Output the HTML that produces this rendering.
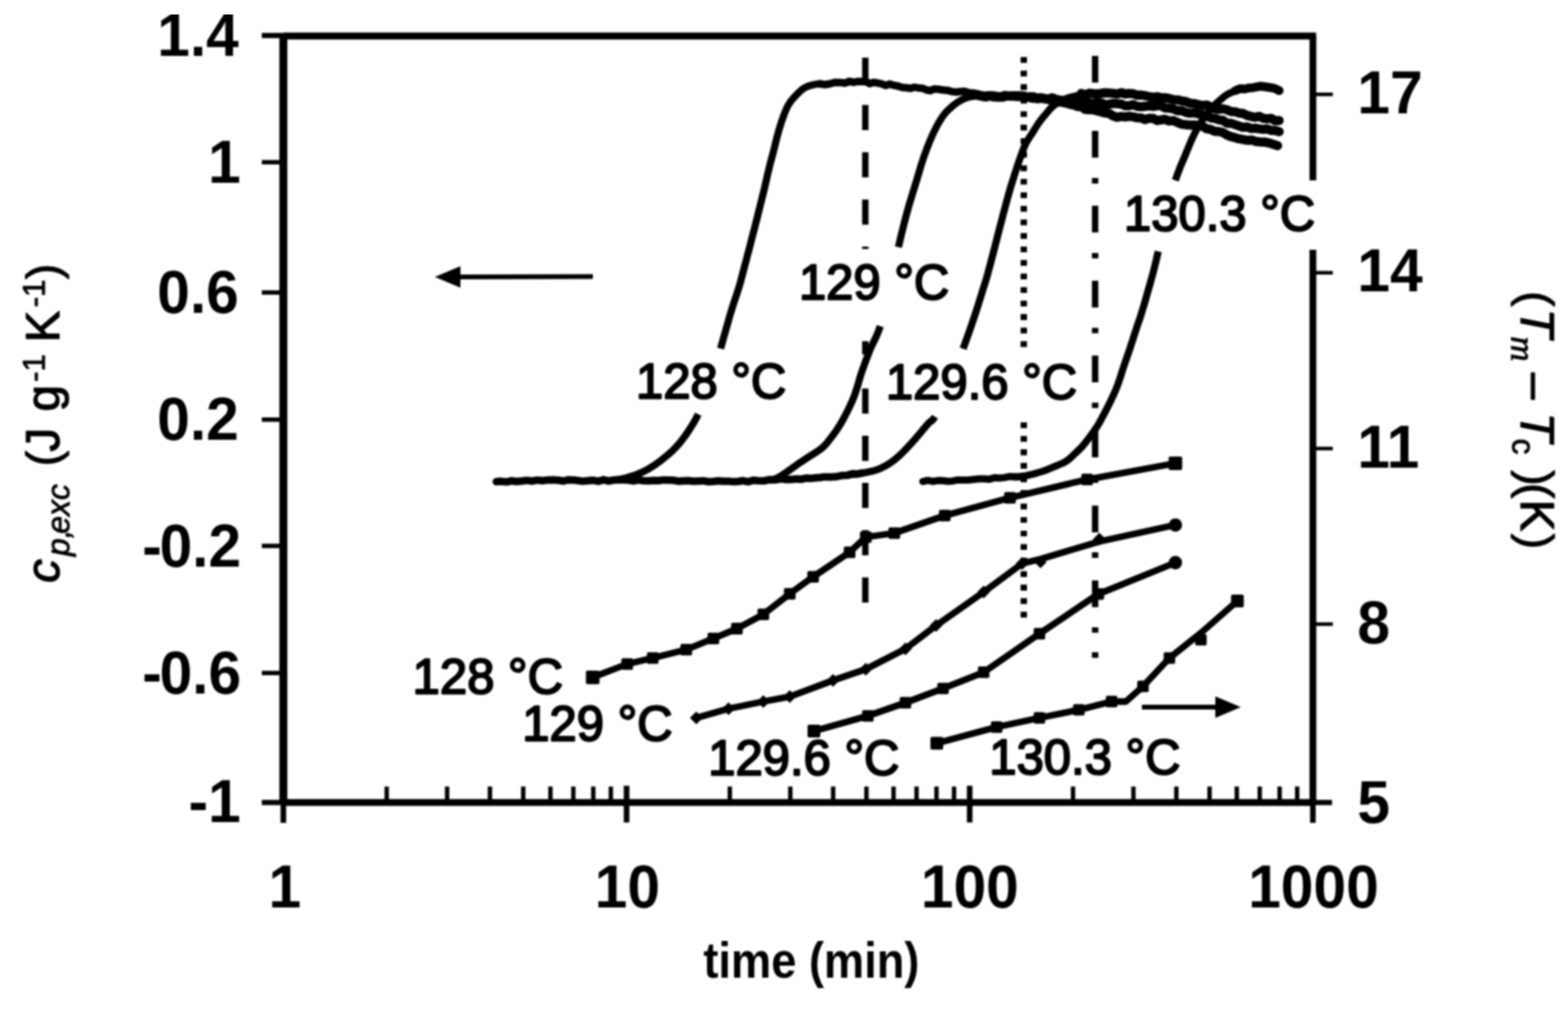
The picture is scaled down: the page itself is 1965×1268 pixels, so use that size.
<!DOCTYPE html>
<html lang="en">
<head>
<meta charset="utf-8">
<title>Excess heat capacity and melting temperature versus time</title>
<style>
html, body { margin: 0; padding: 0; background: #fff; }
body { width: 1965px; height: 1268px; overflow: hidden; }
svg { display: block; }
</style>
</head>
<body>
<svg width="1965" height="1268" viewBox="0 0 1965 1268">
<rect width="1965" height="1268" fill="#fff"/>
<defs><filter id="soft" x="-5%" y="-5%" width="110%" height="110%"><feGaussianBlur stdDeviation="1.3"/></filter></defs>
<g id="figure" filter="url(#soft)">
<g id="chart" fill="none" stroke="#000" stroke-linecap="butt" stroke-linejoin="round">
<path d="M355.1 1005.5 L355.1 44.8" stroke-width="10.0"/>
<path d="M355.1 45.1 L1649.3 45.1" stroke-width="8.8"/>
<path d="M1645.3 44.8 L1645.3 226 M1645.3 313 L1645.3 1005.5" stroke-width="8.5"/>
<path d="M355.1 1005.5 L1645.3 1005.5" stroke-width="8.6"/>
<path d="M328.1 44.5 L355.1 44.5 M328.1 1005.5 L355.1 1005.5 M1645.3 1005.5 L1669.3 1005.5" stroke-width="6.5"/>
<path d="M355.1 1005.5 L355.1 1031.0 M1645.3 1005.5 L1645.3 1031.0" stroke-width="7"/>
<path d="M328.1 203.2 L355.1 203.2 M328.1 366.4 L355.1 366.4 M328.1 525.7 L355.1 525.7 M328.1 684.0 L355.1 684.0 M328.1 843.3 L355.1 843.3 " stroke-width="5.5"/>
<path d="M1645.3 118.3 L1670.3 118.3 M1645.3 341.8 L1670.3 341.8 M1645.3 562 L1670.3 562 M1645.3 782 L1670.3 782 " stroke-width="4.5"/>
<path d="M484.6 1005.5 L484.6 985.5 M560.3 1005.5 L560.3 985.5 M614.0 1005.5 L614.0 985.5 M655.7 1005.5 L655.7 985.5 M689.8 1005.5 L689.8 985.5 M718.5 1005.5 L718.5 985.5 M743.5 1005.5 L743.5 985.5 M765.5 1005.5 L765.5 985.5 M914.6 1005.5 L914.6 985.5 M990.4 1005.5 L990.4 985.5 M1044.1 1005.5 L1044.1 985.5 M1085.8 1005.5 L1085.8 985.5 M1119.8 1005.5 L1119.8 985.5 M1148.6 1005.5 L1148.6 985.5 M1173.6 1005.5 L1173.6 985.5 M1195.6 1005.5 L1195.6 985.5 M1344.7 1005.5 L1344.7 985.5 M1420.4 1005.5 L1420.4 985.5 M1474.2 1005.5 L1474.2 985.5 M1515.8 1005.5 L1515.8 985.5 M1549.9 1005.5 L1549.9 985.5 M1578.7 1005.5 L1578.7 985.5 M1603.6 1005.5 L1603.6 985.5 M1625.6 1005.5 L1625.6 985.5 " stroke-width="5.5"/>
<path d="M785.2 984.5 L785.2 1030.5 M1215.2 984.5 L1215.2 1030.5 " stroke-width="7"/>
<path d="M1084.4 72.3 L1084.4 103.8 M1084.4 131.5 L1084.4 163.0 M1084.4 190.7 L1084.4 222.2 M1084.4 249.9 L1084.4 281.4 M1084.4 309.1 L1084.4 312.0 M1084.4 427.5 L1084.4 444.0 M1084.4 486.7 L1084.4 518.2 M1084.4 545.9 L1084.4 577.4 M1084.4 605.1 L1084.4 636.6 M1084.4 664.3 L1084.4 695.8 M1084.4 723.5 L1084.4 755.0 " stroke-width="8"/>
<path d="M1283.0 71.6 L1283.0 78.8 M1283.0 88.6 L1283.0 95.8 M1283.0 105.5 L1283.0 112.7 M1283.0 122.5 L1283.0 129.7 M1283.0 139.4 L1283.0 146.6 M1283.0 156.3 L1283.0 163.5 M1283.0 173.3 L1283.0 180.5 M1283.0 190.2 L1283.0 197.4 M1283.0 207.2 L1283.0 214.4 M1283.0 224.2 L1283.0 231.3 M1283.0 241.1 L1283.0 248.3 M1283.0 258.0 L1283.0 265.2 M1283.0 275.0 L1283.0 282.2 M1283.0 291.9 L1283.0 299.2 M1283.0 308.9 L1283.0 316.1 M1283.0 325.8 L1283.0 333.1 M1283.0 342.8 L1283.0 350.0 M1283.0 359.7 L1283.0 366.9 M1283.0 376.7 L1283.0 383.9 M1283.0 393.6 L1283.0 400.9 M1283.0 410.6 L1283.0 417.8 M1283.0 427.5 L1283.0 434.8 M1283.0 529.2 L1283.0 536.5 M1283.0 546.2 L1283.0 553.4 M1283.0 563.1 L1283.0 570.4 M1283.0 580.1 L1283.0 587.3 M1283.0 597.0 L1283.0 604.2 M1283.0 614.0 L1283.0 621.2 M1283.0 631.0 L1283.0 638.2 M1283.0 647.9 L1283.0 655.1 M1283.0 664.9 L1283.0 672.1 M1283.0 681.8 L1283.0 689.0 M1283.0 698.8 L1283.0 706.0 M1283.0 715.7 L1283.0 722.9 M1283.0 732.6 L1283.0 739.9 M1283.0 749.6 L1283.0 756.8 M1283.0 766.5 L1283.0 773.8 " stroke-width="8"/>
<path d="M1372.4 70.0 L1372.4 103.5 M1372.4 129.3 L1372.4 136.1 M1372.4 163.9 L1372.4 197.4 M1372.4 223.1 L1372.4 229.9 M1372.4 257.8 L1372.4 291.3 M1372.4 316.9 L1372.4 323.7 M1372.4 351.7 L1372.4 385.2 M1372.4 410.7 L1372.4 417.5 M1372.4 445.6 L1372.4 479.1 M1372.4 504.5 L1372.4 511.3 M1372.4 539.5 L1372.4 573.0 M1372.4 598.3 L1372.4 605.1 M1372.4 633.4 L1372.4 666.9 M1372.4 692.1 L1372.4 698.9 M1372.4 727.3 L1372.4 760.8 M1372.4 785.9 L1372.4 792.7 M1372.4 817.2 L1372.4 824.2 " stroke-width="8"/>
<path d="M622.0 603.6 L628.3 603.1 L634.7 603.9 L641.0 602.5 L647.3 603.3 L653.7 602.7 L660.0 601.9 L666.7 602.7 L673.3 601.6 L680.0 602.3 L686.7 601.4 L693.3 601.3 L700.0 601.8 L706.2 602.7 L712.5 601.2 L718.8 601.4 L725.0 602.3 L731.2 602.9 L737.5 602.2 L743.8 601.8 L750.0 603.0 L756.2 601.1 L762.5 602.7 L768.8 601.6 L775.0 601.3 L781.2 601.2 L787.5 601.6 L793.8 602.6 L800.0 601.4 L806.2 602.2 L812.5 602.4 L818.8 601.9 L825.0 602.3 L831.2 601.4 L837.5 601.5 L843.8 601.8 L850.0 602.9 L856.2 602.4 L862.5 602.3 L868.8 602.9 L875.0 602.7 L881.2 602.4 L887.5 603.5 L893.8 603.3 L900.0 602.5 L906.2 603.1 L912.5 602.9 L918.8 603.6 L925.0 603.2 L931.2 602.3 L937.5 603.6 L943.8 601.8 L950.0 602.3 L957.0 602.6 L964.0 601.0 L971.0 601.3 L978.0 600.0 L985.0 600.5" stroke-width="9.5" stroke-linecap="round"/>
<path d="M985.0 600.8 L991.2 600.8 L997.5 600.1 L1003.8 600.5 L1010.0 599.1 L1016.0 599.4 L1022.0 598.7 L1028.0 598.2 L1034.0 597.4 L1040.0 597.7 L1047.3 597.3 L1054.7 595.8 L1062.0 595.6 L1068.3 593.5 L1074.7 593.9 L1081.0 592.6" stroke-width="9.5" stroke-linecap="round"/>
<path d="M765.0 602.0 L765.9 601.9 L766.9 601.7 L768.2 601.6 L769.6 601.5 L771.1 601.3 L772.7 601.1 L774.4 600.9 L776.2 600.6 L778.0 600.3 L779.9 599.9 L781.8 599.5 L783.6 599.0 L785.5 598.5 L787.4 597.9 L789.5 597.3 L791.6 596.6 L793.7 595.9 L795.9 595.2 L798.1 594.4 L800.3 593.5 L802.5 592.6 L804.7 591.6 L806.9 590.6 L809.0 589.5 L811.1 588.3 L813.3 587.1 L815.5 585.8 L817.7 584.4 L819.9 583.0 L822.1 581.5 L824.2 579.9 L826.4 578.4 L828.5 576.8 L830.5 575.2 L832.5 573.6 L834.5 572.0 L836.4 570.4 L838.2 568.8 L840.0 567.3 L841.7 565.7 L843.4 564.1 L845.1 562.4 L846.7 560.7 L848.4 558.9 L850.0 557.1 L851.7 555.2 L853.3 553.1 L855.0 551.0 L856.7 548.7 L858.4 546.4 L860.2 543.9 L861.9 541.4 L863.6 538.8 L865.3 536.1 L867.0 533.4 L868.7 530.6 L870.4 527.8 L872.0 524.9 L873.5 521.9 L875.0 519.0" stroke-width="9.0" stroke-linecap="butt"/>
<path d="M903.0 436.7 L904.1 432.9 L905.2 429.1 L906.3 425.1 L907.4 421.1 L908.6 417.1 L909.7 413.1 L910.8 409.1 L911.9 405.2 L913.0 401.4 L914.0 397.8 L915.0 394.3 L916.0 391.0 L917.0 387.9 L917.9 384.9 L918.8 382.0 L919.7 379.2 L920.6 376.6 L921.4 374.0 L922.3 371.5 L923.1 369.1 L923.9 366.8 L924.6 364.5 L925.3 362.2 L926.0 360.0 L926.6 357.9 L927.2 356.1 L927.6 354.5 L928.1 353.0 L928.5 351.5 L928.8 350.1 L929.2 348.6 L929.7 346.9 L930.1 345.1 L930.7 343.1 L931.3 340.7 L932.0 338.0 L932.8 334.9 L933.7 331.5 L934.7 327.9 L935.7 324.0 L936.7 319.9 L937.8 315.8 L939.0 311.5 L940.1 307.1 L941.2 302.8 L942.3 298.4 L943.4 294.2 L944.5 290.0 L945.6 285.8 L946.6 281.6 L947.8 277.2 L948.9 272.7 L950.0 268.3 L951.1 263.9 L952.2 259.5 L953.2 255.3 L954.3 251.1 L955.2 247.2 L956.2 243.5 L957.0 240.0 L957.8 236.8 L958.5 233.8 L959.2 230.9 L959.8 228.3 L960.4 225.7 L960.9 223.3 L961.4 221.0 L961.9 218.7 L962.4 216.5 L963.0 214.4 L963.5 212.2 L964.0 210.0 L964.5 207.8 L965.1 205.7 L965.6 203.7 L966.1 201.7 L966.6 199.8 L967.1 197.9 L967.6 196.0 L968.1 194.2 L968.6 192.4 L969.1 190.6 L969.5 188.8 L970.0 187.0 L970.4 185.2 L970.9 183.5 L971.3 181.8 L971.7 180.1 L972.1 178.4 L972.5 176.8 L972.9 175.1 L973.3 173.5 L973.7 171.9 L974.1 170.2 L974.6 168.6 L975.0 167.0 L975.5 165.4 L975.9 163.7 L976.4 162.1 L976.9 160.5 L977.4 158.9 L977.9 157.3 L978.4 155.7 L978.9 154.1 L979.4 152.6 L979.9 151.0 L980.5 149.5 L981.0 148.0 L981.5 146.5 L982.1 145.0 L982.6 143.6 L983.2 142.1 L983.7 140.7 L984.3 139.3 L984.9 137.9 L985.5 136.5 L986.1 135.2 L986.7 133.9 L987.3 132.7 L988.0 131.5 L988.7 130.4 L989.4 129.3 L990.1 128.2 L990.8 127.2 L991.5 126.3 L992.3 125.3 L993.0 124.4 L993.8 123.5 L994.6 122.6 L995.4 121.7 L996.2 120.9 L997.0 120.0 L997.8 119.1 L998.7 118.2 L999.5 117.4 L1000.4 116.5 L1001.3 115.6 L1002.2 114.8 L1003.1 114.0 L1004.0 113.2 L1004.9 112.4 L1005.8 111.7 L1006.7 111.1 L1007.6 110.5 L1008.5 110.0 L1009.3 109.5 L1010.2 109.1 L1011.0 108.7 L1011.9 108.3 L1012.7 108.0 L1013.6 107.7 L1014.4 107.5 L1015.3 107.2 L1016.2 107.0 L1017.1 106.7 L1018.0 106.5 L1019.0 106.3 L1020.0 106.0 L1021.2 105.8 L1022.3 105.6 L1023.5 105.4 L1024.7 105.2 L1025.8 105.1 L1026.8 104.9 L1027.8 104.8 L1028.7 104.7 L1029.4 104.6 L1030.0 104.5" stroke-width="9.0" stroke-linecap="butt"/>
<path d="M1028.0 105.3 L1034.0 106.0 L1040.0 105.0 L1046.9 103.2 L1053.8 103.4 L1059.1 104.2 L1064.4 102.0 L1069.7 103.2 L1075.0 102.1 L1080.0 102.2 L1085.0 102.2 L1090.0 104.7 L1095.0 103.2 L1100.0 104.1 L1105.0 105.1 L1110.0 107.1 L1115.0 105.2 L1120.2 106.9 L1125.4 107.9 L1130.6 109.5 L1135.8 109.9 L1141.0 110.7 L1146.0 109.3 L1151.0 110.2 L1156.0 110.5 L1161.0 112.7 L1166.0 113.5 L1171.3 111.4 L1176.6 112.0 L1181.9 112.7 L1187.2 113.2 L1192.5 114.6 L1198.0 115.4 L1203.5 114.8 L1209.0 114.5 L1214.5 116.3 L1220.0 116.6 L1226.0 117.7 L1232.0 119.4 L1238.0 119.1 L1244.0 119.0 L1249.2 119.7 L1254.4 120.2 L1259.6 118.5 L1264.8 121.5 L1270.0 121.4 L1275.0 121.9 L1280.0 122.0 L1285.0 120.9 L1290.0 121.5" stroke-width="9.5" stroke-linecap="round"/>
<path d="M1290.0 121.2 L1295.2 121.3 L1300.3 123.7 L1305.5 123.0 L1310.7 124.0 L1315.8 125.3 L1321.0 126.1 L1325.9 127.7 L1330.8 128.0 L1335.6 129.0 L1340.5 130.5 L1345.4 131.5 L1350.2 133.4 L1355.1 133.5 L1360.0 137.0 L1365.0 137.5 L1370.0 137.4 L1375.0 138.9 L1380.0 140.3 L1385.0 141.6 L1390.0 142.1 L1395.0 145.3 L1400.0 146.9 L1405.0 145.9 L1410.0 146.5 L1415.0 145.8 L1420.0 146.4 L1425.0 147.6 L1430.0 147.8 L1435.0 149.8 L1440.0 148.2 L1445.0 148.2 L1450.0 151.1 L1455.0 150.2 L1460.0 149.5 L1465.2 151.6 L1470.4 151.1 L1475.7 153.4 L1480.9 155.6 L1486.1 156.2 L1491.3 156.7 L1496.6 156.4 L1501.8 157.7 L1507.0 158.1 L1512.1 161.3 L1517.2 162.2 L1522.2 164.4 L1527.3 164.7 L1532.4 166.0 L1537.5 169.2 L1542.5 171.2 L1547.6 172.4 L1552.7 173.9 L1558.1 174.9 L1563.4 175.8 L1568.8 175.4 L1574.2 177.3 L1579.5 177.9 L1584.9 178.0 L1590.3 179.1 L1595.6 180.8 L1601.0 182.5" stroke-width="11.5" stroke-linecap="round"/>
<path d="M968.0 601.5 L968.4 601.3 L968.9 601.1 L969.5 600.9 L970.1 600.6 L970.8 600.3 L971.6 600.0 L972.4 599.6 L973.2 599.2 L974.1 598.8 L974.9 598.4 L975.8 598.0 L976.6 597.5 L977.5 597.0 L978.3 596.5 L979.2 595.9 L980.2 595.3 L981.1 594.7 L982.1 594.0 L983.1 593.4 L984.1 592.7 L985.0 592.0 L986.0 591.4 L987.0 590.7 L988.0 590.0 L989.0 589.3 L989.9 588.6 L990.9 588.0 L991.8 587.3 L992.8 586.6 L993.8 585.8 L994.8 585.1 L995.8 584.4 L996.8 583.7 L997.8 582.9 L998.9 582.2 L1000.0 581.4 L1001.1 580.6 L1002.3 579.8 L1003.5 579.0 L1004.8 578.2 L1006.0 577.4 L1007.3 576.6 L1008.6 575.7 L1009.9 574.9 L1011.1 574.0 L1012.4 573.2 L1013.7 572.4 L1015.0 571.5 L1016.3 570.7 L1017.6 569.8 L1019.0 569.0 L1020.3 568.1 L1021.7 567.2 L1023.0 566.4 L1024.4 565.5 L1025.7 564.6 L1027.0 563.7 L1028.2 562.8 L1029.4 561.9 L1030.5 561.0 L1031.6 560.1 L1032.5 559.1 L1033.5 558.2 L1034.4 557.2 L1035.3 556.2 L1036.1 555.2 L1036.9 554.2 L1037.7 553.2 L1038.5 552.2 L1039.3 551.1 L1040.2 550.1 L1041.0 549.0 L1041.9 547.9 L1042.7 546.8 L1043.6 545.7 L1044.4 544.6 L1045.3 543.4 L1046.1 542.2 L1046.9 541.1 L1047.8 539.9 L1048.6 538.7 L1049.4 537.5 L1050.2 536.2 L1051.0 535.0 L1051.8 533.7 L1052.6 532.5 L1053.3 531.2 L1054.1 529.9 L1054.8 528.6 L1055.6 527.3 L1056.3 526.0 L1057.0 524.6 L1057.8 523.3 L1058.5 521.9 L1059.3 520.4 L1060.0 519.0 L1060.8 517.5 L1061.6 515.9 L1062.4 514.3 L1063.2 512.7 L1064.0 511.0 L1064.8 509.3 L1065.6 507.6 L1066.3 506.0 L1067.1 504.4 L1067.8 502.9 L1068.4 501.4 L1069.0 500.0 L1069.5 498.7 L1070.0 497.6 L1070.4 496.5 L1070.8 495.5 L1071.1 494.6 L1071.5 493.6 L1071.8 492.7 L1072.1 491.7 L1072.4 490.7 L1072.8 489.6 L1073.2 488.3 L1073.6 487.0 L1074.1 485.5 L1074.5 484.0 L1075.0 482.5 L1075.5 480.8 L1076.0 479.1 L1076.5 477.4 L1077.0 475.6 L1077.5 473.7 L1078.1 471.9 L1078.7 469.9 L1079.3 468.0 L1080.0 466.0 L1080.7 464.0 L1081.4 461.9 L1082.2 459.7 L1083.0 457.6 L1083.8 455.3 L1084.6 453.1 L1085.4 450.8 L1086.3 448.5 L1087.2 446.1 L1088.1 443.8 L1089.1 441.4 L1090.0 439.0 L1091.0 436.6 L1092.0 434.4 L1093.1 432.1 L1094.2 429.8 L1095.3 427.5 L1096.4 425.2 L1097.6 422.8 L1098.7 420.3 L1099.8 417.6 L1100.9 414.9 L1102.0 411.9 L1103.0 408.7" stroke-width="9.0" stroke-linecap="butt"/>
<path d="M1125.8 309.7 L1126.8 305.8 L1127.7 301.9 L1128.6 298.0 L1129.5 294.2 L1130.5 290.4 L1131.4 286.7 L1132.3 283.0 L1133.2 279.3 L1134.2 275.7 L1135.1 272.1 L1136.0 268.5 L1137.0 265.0 L1138.0 261.5 L1139.0 257.9 L1140.0 254.3 L1141.1 250.8 L1142.2 247.2 L1143.2 243.8 L1144.3 240.4 L1145.3 237.0 L1146.3 233.8 L1147.2 230.7 L1148.2 227.8 L1149.0 225.0 L1149.8 222.4 L1150.5 219.9 L1151.2 217.6 L1151.9 215.4 L1152.5 213.3 L1153.1 211.2 L1153.7 209.3 L1154.2 207.4 L1154.8 205.5 L1155.4 203.7 L1156.0 201.9 L1156.6 200.0 L1157.2 198.2 L1157.8 196.4 L1158.4 194.6 L1159.1 192.9 L1159.7 191.2 L1160.3 189.6 L1160.9 187.9 L1161.5 186.3 L1162.1 184.7 L1162.7 183.2 L1163.4 181.6 L1164.0 180.0 L1164.6 178.4 L1165.3 176.9 L1165.9 175.3 L1166.5 173.8 L1167.2 172.3 L1167.8 170.8 L1168.5 169.3 L1169.2 167.9 L1169.8 166.4 L1170.5 164.9 L1171.3 163.5 L1172.0 162.0 L1172.8 160.5 L1173.5 159.0 L1174.3 157.5 L1175.2 156.0 L1176.0 154.5 L1176.8 153.1 L1177.7 151.6 L1178.6 150.2 L1179.4 148.8 L1180.3 147.5 L1181.1 146.2 L1182.0 145.0 L1182.9 143.9 L1183.7 142.8 L1184.6 141.7 L1185.5 140.8 L1186.3 139.8 L1187.2 138.9 L1188.1 138.0 L1189.0 137.2 L1189.9 136.4 L1190.8 135.6 L1191.6 134.8 L1192.5 134.0 L1193.4 133.2 L1194.2 132.5 L1195.1 131.8 L1196.0 131.1 L1196.8 130.5 L1197.7 129.8 L1198.5 129.2 L1199.4 128.6 L1200.2 128.1 L1201.1 127.5 L1201.9 127.0 L1202.8 126.5 L1203.6 126.0 L1204.5 125.5 L1205.3 125.1 L1206.1 124.7 L1207.0 124.3 L1207.8 123.9 L1208.6 123.5 L1209.5 123.2 L1210.3 122.9 L1211.2 122.6 L1212.1 122.3 L1213.0 122.0 L1214.0 121.7 L1215.0 121.5 L1216.2 121.3 L1217.3 121.1 L1218.5 120.9 L1219.6 120.7 L1220.8 120.6 L1221.8 120.4 L1222.8 120.3 L1223.7 120.2 L1224.4 120.1 L1225.0 120.0" stroke-width="9.0" stroke-linecap="butt"/>
<path d="M1225.0 119.3 L1230.3 120.6 L1235.5 121.5 L1240.8 120.1 L1246.1 121.6 L1251.4 121.8 L1256.6 121.8 L1261.9 120.3 L1267.2 119.9 L1272.5 120.1 L1277.7 120.1 L1283.0 120.2 L1288.1 121.7 L1293.2 122.9 L1298.3 123.2 L1303.4 122.5 L1308.5 123.4 L1313.6 124.2 L1318.7 122.6 L1323.8 124.6 L1328.9 125.7 L1334.0 125.8 L1339.1 126.2 L1344.2 125.9 L1349.2 125.5 L1354.3 127.7 L1359.4 126.8 L1364.5 128.6 L1369.5 129.6 L1374.6 128.4 L1379.7 128.9 L1384.8 130.9 L1389.8 130.7 L1394.9 129.6 L1400.0 130.0 L1405.0 130.3 L1410.0 132.6 L1415.0 132.6 L1420.0 131.0 L1425.0 133.2 L1430.0 133.8 L1435.0 133.2 L1440.0 132.6 L1445.0 133.4 L1450.0 132.5 L1455.0 132.4 L1460.0 135.3 L1465.2 135.6 L1470.4 136.4 L1475.7 138.7 L1480.9 138.5 L1486.1 140.9 L1491.3 141.9 L1496.6 141.4 L1501.8 142.6 L1507.0 143.9 L1512.1 145.2 L1517.2 147.7 L1522.2 148.2 L1527.3 150.1 L1532.4 150.8 L1537.5 154.4 L1542.5 154.4 L1547.6 156.1 L1552.7 157.9 L1557.7 159.6 L1562.8 158.9 L1567.8 161.1 L1572.8 160.6 L1577.8 161.4 L1582.9 162.1 L1587.9 161.5 L1592.9 163.4 L1598.0 163.4 L1603.0 165.0" stroke-width="11.5" stroke-linecap="round"/>
<path d="M1060.0 595.5 L1061.0 595.4 L1062.3 595.2 L1063.9 595.0 L1065.6 594.8 L1067.5 594.6 L1069.4 594.4 L1071.5 594.1 L1073.5 593.8 L1075.6 593.5 L1077.6 593.2 L1079.6 592.9 L1081.4 592.6 L1083.1 592.3 L1084.9 592.0 L1086.6 591.6 L1088.3 591.3 L1090.0 591.0 L1091.7 590.6 L1093.4 590.2 L1095.1 589.8 L1096.7 589.3 L1098.4 588.8 L1100.1 588.2 L1101.8 587.5 L1103.5 586.8 L1105.2 586.0 L1106.9 585.1 L1108.5 584.3 L1110.2 583.3 L1111.9 582.3 L1113.6 581.3 L1115.3 580.2 L1116.9 579.1 L1118.6 577.9 L1120.3 576.6 L1122.0 575.3 L1123.7 573.9 L1125.4 572.4 L1127.1 570.9 L1128.8 569.3 L1130.5 567.6 L1132.2 565.9 L1133.9 564.1 L1135.7 562.3 L1137.4 560.5 L1139.1 558.7 L1140.8 556.8 L1142.5 555.0 L1144.2 553.1 L1146.1 551.0 L1147.9 548.9 L1149.8 546.7 L1151.6 544.5 L1153.5 542.3 L1155.3 540.1 L1157.0 538.0 L1158.7 536.0 L1160.3 534.2 L1161.7 532.5 L1163.0 531.0 L1164.1 529.8 L1165.0 529.0 L1165.8 528.4 L1166.4 527.9 L1166.9 527.6 L1167.4 527.3 L1167.9 527.0 L1168.4 526.5 L1169.0 525.9 L1169.7 524.9 L1170.6 523.7 L1171.6 522.0" stroke-width="9.0" stroke-linecap="butt"/>
<path d="M1207.0 437.0 L1208.2 433.5 L1209.4 430.2 L1210.5 427.0 L1211.6 424.0 L1212.7 421.0 L1213.8 418.0 L1214.8 415.1 L1215.8 412.1 L1216.9 409.2 L1217.9 406.2 L1218.9 403.2 L1220.0 400.0 L1221.1 396.7 L1222.2 393.3 L1223.3 389.9 L1224.5 386.3 L1225.6 382.8 L1226.7 379.2 L1227.8 375.8 L1228.9 372.3 L1229.9 369.0 L1230.9 365.8 L1231.8 362.8 L1232.7 360.0 L1233.5 357.6 L1234.1 355.6 L1234.6 354.0 L1235.0 352.6 L1235.5 351.3 L1235.9 349.9 L1236.3 348.5 L1236.8 346.8 L1237.4 344.7 L1238.1 342.1 L1238.9 338.9 L1240.0 335.0 L1241.3 330.2 L1242.8 324.4 L1244.5 317.9 L1246.3 310.9 L1248.2 303.5 L1250.1 295.9 L1252.1 288.2 L1254.0 280.8 L1255.9 273.6 L1257.6 267.0 L1259.2 261.1 L1260.5 256.0 L1261.7 251.7 L1262.7 248.0 L1263.6 244.8 L1264.4 242.0 L1265.1 239.5 L1265.7 237.3 L1266.3 235.2 L1266.9 233.3 L1267.5 231.4 L1268.1 229.4 L1268.8 227.3 L1269.5 225.0 L1270.3 222.6 L1271.0 220.1 L1271.8 217.7 L1272.6 215.3 L1273.4 212.9 L1274.1 210.6 L1274.9 208.3 L1275.6 206.0 L1276.4 203.8 L1277.1 201.7 L1277.8 199.7 L1278.5 197.8 L1279.2 196.0 L1279.8 194.2 L1280.4 192.6 L1280.9 191.0 L1281.5 189.5 L1282.1 188.0 L1282.6 186.6 L1283.2 185.2 L1283.7 183.9 L1284.3 182.6 L1284.9 181.3 L1285.5 180.0 L1286.1 178.8 L1286.8 177.6 L1287.4 176.4 L1288.1 175.3 L1288.7 174.3 L1289.4 173.3 L1290.0 172.2 L1290.7 171.2 L1291.4 170.2 L1292.1 169.2 L1292.8 168.1 L1293.5 167.0 L1294.2 165.9 L1294.9 164.7 L1295.7 163.5 L1296.4 162.3 L1297.2 161.1 L1297.9 159.9 L1298.7 158.7 L1299.5 157.5 L1300.2 156.3 L1301.0 155.2 L1301.7 154.1 L1302.5 153.0 L1303.3 152.0 L1304.0 150.9 L1304.8 149.9 L1305.6 148.9 L1306.4 147.9 L1307.2 146.9 L1308.0 146.0 L1308.7 145.1 L1309.5 144.2 L1310.2 143.4 L1310.9 142.6 L1311.5 141.8 L1312.1 141.1 L1312.7 140.4 L1313.2 139.8 L1313.7 139.2 L1314.2 138.6 L1314.6 138.0 L1315.1 137.5 L1315.6 137.0 L1316.0 136.5 L1316.5 136.0 L1317.0 135.5 L1317.5 135.0 L1318.0 134.5 L1318.6 134.0 L1319.1 133.5 L1319.6 133.0 L1320.2 132.6 L1320.7 132.1 L1321.3 131.7 L1321.8 131.2 L1322.4 130.8 L1323.0 130.3 L1323.6 129.9 L1324.2 129.5 L1324.8 129.1 L1325.5 128.7 L1326.1 128.3 L1326.8 127.9 L1327.5 127.5 L1328.1 127.1 L1328.8 126.8 L1329.5 126.4 L1330.3 126.0 L1331.0 125.7 L1331.7 125.3 L1332.5 125.0 L1333.2 124.7 L1334.0 124.4 L1334.7 124.1 L1335.4 123.8 L1336.2 123.5 L1336.9 123.2 L1337.7 122.9 L1338.5 122.6 L1339.4 122.4 L1340.4 122.1 L1341.4 121.8 L1342.5 121.5 L1343.8 121.2 L1345.2 120.9 L1346.8 120.5 L1348.4 120.2 L1350.1 119.9 L1351.9 119.5 L1353.6 119.2 L1355.2 118.9 L1356.7 118.6 L1358.0 118.4 L1359.1 118.2 L1360.0 118.0" stroke-width="9.0" stroke-linecap="butt"/>
<path d="M1355.0 117.1 L1360.0 119.0 L1365.0 116.8 L1370.0 117.3 L1375.0 117.6 L1380.0 117.0 L1385.0 116.2 L1390.0 116.6 L1395.0 116.9 L1400.0 117.8 L1405.0 116.1 L1410.0 117.7 L1415.0 117.0 L1420.0 117.4 L1425.0 119.3 L1430.0 119.1 L1435.0 119.9 L1440.0 121.0 L1445.0 122.0 L1450.0 121.2 L1455.0 122.3 L1460.0 122.5 L1465.2 123.5 L1470.4 124.9 L1475.7 125.2 L1480.9 126.4 L1486.1 127.2 L1491.3 129.4 L1496.6 129.7 L1501.8 131.1 L1507.0 132.2 L1512.1 131.6 L1517.2 133.7 L1522.2 136.0 L1527.3 137.0 L1532.4 136.3 L1537.5 137.5 L1542.5 139.7 L1547.6 139.9 L1552.7 141.7 L1557.7 142.1 L1562.8 144.6 L1567.8 145.8 L1572.8 147.0 L1577.8 145.7 L1582.9 148.2 L1587.9 148.9 L1592.9 148.3 L1598.0 151.2 L1603.0 151.0" stroke-width="11.5" stroke-linecap="round"/>
<path d="M1156.4 603.3 L1162.6 601.9 L1168.9 603.2 L1175.1 602.1 L1181.3 602.2 L1187.5 603.0 L1193.8 602.7 L1200.0 601.4 L1206.7 601.5 L1213.3 601.4 L1220.0 600.7 L1226.7 600.1 L1233.3 600.0 L1240.0 600.4 L1246.2 598.6 L1252.5 599.1 L1258.7 598.4 L1264.9 597.1 L1271.1 597.2 L1277.4 597.2 L1283.6 596.5" stroke-width="9" stroke-linecap="round"/>
<path d="M1270.0 598.0 L1270.6 597.9 L1271.4 597.9 L1272.3 597.8 L1273.2 597.8 L1274.3 597.7 L1275.5 597.6 L1276.7 597.5 L1278.0 597.4 L1279.3 597.2 L1280.7 597.0 L1282.2 596.8 L1283.6 596.5 L1285.1 596.2 L1286.8 595.8 L1288.5 595.4 L1290.3 595.0 L1292.2 594.5 L1294.1 594.1 L1296.0 593.6 L1297.9 593.1 L1299.8 592.5 L1301.6 592.0 L1303.4 591.5 L1305.0 591.0 L1306.6 590.5 L1308.1 590.0 L1309.6 589.4 L1311.0 588.9 L1312.4 588.4 L1313.8 587.8 L1315.1 587.3 L1316.5 586.7 L1317.8 586.1 L1319.1 585.6 L1320.4 585.0 L1321.7 584.5 L1323.0 584.0 L1324.3 583.5 L1325.5 582.9 L1326.8 582.4 L1328.0 581.9 L1329.2 581.4 L1330.4 580.9 L1331.6 580.4 L1332.7 579.8 L1333.8 579.3 L1334.9 578.6 L1336.0 578.0 L1337.0 577.3 L1338.0 576.6 L1339.0 575.8 L1339.9 575.1 L1340.9 574.3 L1341.8 573.5 L1342.7 572.6 L1343.5 571.8 L1344.4 571.0 L1345.3 570.1 L1346.1 569.3 L1347.0 568.5 L1347.9 567.7 L1348.7 566.9 L1349.6 566.1 L1350.4 565.3 L1351.2 564.5 L1352.0 563.8 L1352.8 562.9 L1353.7 562.1 L1354.5 561.3 L1355.3 560.4 L1356.2 559.5 L1357.0 558.5 L1357.9 557.5 L1358.7 556.4 L1359.6 555.3 L1360.5 554.2 L1361.4 553.1 L1362.3 551.9 L1363.2 550.7 L1364.1 549.6 L1365.0 548.4 L1365.9 547.2 L1366.7 546.1 L1367.5 545.0 L1368.3 543.9 L1369.0 542.9 L1369.8 541.9 L1370.5 540.9 L1371.2 539.9 L1371.8 538.9 L1372.5 537.9 L1373.2 536.9 L1373.9 535.9 L1374.6 534.8 L1375.3 533.7 L1376.0 532.5 L1376.7 531.3 L1377.5 530.0 L1378.2 528.6 L1379.0 527.3 L1379.8 525.9 L1380.5 524.5 L1381.3 523.0 L1382.1 521.6 L1382.8 520.2 L1383.6 518.8 L1384.3 517.4 L1385.0 516.0 L1385.7 514.7 L1386.4 513.3 L1387.1 512.0 L1387.8 510.7 L1388.4 509.4 L1389.1 508.1 L1389.7 506.7 L1390.4 505.4 L1391.1 504.1 L1391.7 502.7 L1392.4 501.4 L1393.0 500.0 L1393.6 498.6 L1394.3 497.2 L1394.9 495.8 L1395.6 494.5 L1396.2 493.1 L1396.8 491.7 L1397.5 490.2 L1398.1 488.8 L1398.7 487.3 L1399.3 485.7 L1400.0 484.1 L1400.6 482.5 L1401.2 480.8 L1401.8 479.0 L1402.4 477.2 L1403.1 475.4 L1403.7 473.5 L1404.3 471.6 L1404.9 469.7 L1405.5 467.7 L1406.1 465.8 L1406.7 463.9 L1407.4 461.9 L1408.0 460.0 L1408.6 458.1 L1409.3 456.2 L1410.0 454.3 L1410.6 452.3 L1411.3 450.4 L1412.0 448.5 L1412.6 446.5 L1413.3 444.6 L1414.0 442.6 L1414.7 440.7 L1415.3 438.7 L1416.0 436.7 L1416.7 434.7 L1417.3 432.6 L1418.0 430.5 L1418.7 428.4 L1419.4 426.3 L1420.1 424.2 L1420.7 422.1 L1421.4 420.0 L1422.1 417.9 L1422.7 415.9 L1423.4 413.9 L1424.0 412.0 L1424.6 410.2 L1425.2 408.4 L1425.8 406.7 L1426.3 405.1 L1426.9 403.5 L1427.4 401.9 L1428.0 400.3 L1428.6 398.6 L1429.1 396.9 L1429.7 395.0 L1430.3 393.1 L1431.0 391.0 L1431.7 388.7 L1432.4 386.3 L1433.2 383.7 L1434.0 381.1 L1434.8 378.3 L1435.6 375.6 L1436.4 372.8 L1437.1 370.0 L1437.9 367.4 L1438.7 364.8 L1439.3 362.3 L1440.0 360.0 L1440.6 357.9 L1441.2 355.8 L1441.7 353.9 L1442.2 352.0 L1442.7 350.2 L1443.2 348.5 L1443.7 346.8 L1444.1 345.1 L1444.6 343.4 L1445.1 341.6 L1445.5 339.8 L1446.0 338.0 L1446.5 336.2 L1446.9 334.5 L1447.3 332.8 L1447.7 331.2 L1448.1 329.6 L1448.5 327.9 L1448.9 326.2 L1449.3 324.3 L1449.8 322.3 L1450.3 320.1 L1450.9 317.7 L1451.5 315.0" stroke-width="9.0" stroke-linecap="butt"/>
<path d="M1473.0 226.0 L1474.0 222.9 L1475.0 219.9 L1476.0 217.1 L1477.1 214.3 L1478.1 211.6 L1479.2 209.0 L1480.2 206.4 L1481.3 203.9 L1482.4 201.4 L1483.4 199.0 L1484.5 196.5 L1485.5 194.0 L1486.5 191.5 L1487.5 189.0 L1488.6 186.5 L1489.6 184.1 L1490.6 181.6 L1491.6 179.2 L1492.6 176.9 L1493.6 174.6 L1494.7 172.3 L1495.7 170.2 L1496.7 168.0 L1497.7 166.0 L1498.7 164.0 L1499.7 162.1 L1500.8 160.3 L1501.8 158.5 L1502.8 156.8 L1503.9 155.1 L1504.9 153.5 L1505.9 151.9 L1506.9 150.4 L1508.0 148.9 L1509.0 147.4 L1510.0 146.0 L1511.0 144.6 L1512.1 143.2 L1513.1 141.9 L1514.2 140.6 L1515.2 139.4 L1516.3 138.2 L1517.3 137.1 L1518.3 136.0 L1519.3 134.9 L1520.2 133.9 L1521.1 132.9 L1522.0 132.0 L1522.8 131.1 L1523.6 130.4 L1524.3 129.6 L1525.0 128.9 L1525.7 128.3 L1526.3 127.7 L1526.9 127.2 L1527.6 126.6 L1528.2 126.1 L1528.8 125.6 L1529.4 125.0 L1530.0 124.5 L1530.6 124.0 L1531.2 123.5 L1531.8 122.9 L1532.4 122.5 L1532.9 122.0 L1533.5 121.5 L1534.1 121.1 L1534.6 120.6 L1535.2 120.2 L1535.8 119.8 L1536.4 119.4 L1537.0 119.0 L1537.6 118.6 L1538.3 118.2 L1538.9 117.9 L1539.6 117.5 L1540.3 117.2 L1541.0 116.8 L1541.6 116.5 L1542.3 116.2 L1543.0 115.9 L1543.7 115.6 L1544.3 115.3 L1545.0 115.0 L1545.7 114.7 L1546.4 114.5 L1547.1 114.2 L1547.9 114.0 L1548.6 113.7 L1549.3 113.5 L1550.1 113.3 L1550.7 113.1 L1551.3 112.9 L1551.9 112.8 L1552.3 112.6 L1552.7 112.5" stroke-width="9.0" stroke-linecap="butt"/>
<path d="M1548.0 113.5 L1554.0 111.1 L1560.0 111.5 L1565.5 110.2 L1571.0 109.7 L1580.0 108.0 L1589.0 109.3 L1597.0 110.6 L1603.0 113.5" stroke-width="11" stroke-linecap="round"/>
<path d="M742.8 848.7 L786.0 832.0 L818.0 824.5 L860.0 814.0 L894.0 800.0 L923.5 787.6 L956.6 769.8 L989.7 744.0 L1019.0 722.7 L1064.7 692.0 L1085.0 673.0 L1120.7 668.0 L1184.0 646.0 L1265.7 623.7 L1362.4 600.8 L1473.0 580.5" stroke-width="8.3" stroke-linecap="round"/>
<path d="M872.6 899.5 L913.0 888.0 L956.6 879.0 L989.7 872.8 L1044.0 852.5 L1085.0 838.5 L1134.7 813.0 L1173.0 783.8 L1232.7 741.8 L1281.0 706.0 L1304.0 700.5 L1377.7 678.5 L1473.0 657.8" stroke-width="8.3" stroke-linecap="round"/>
<path d="M1020.0 916.0 L1087.6 897.0 L1134.7 880.5 L1181.8 862.6 L1232.7 842.3 L1302.6 794.0 L1376.4 744.3 L1473.0 705.0" stroke-width="8.3" stroke-linecap="round"/>
<path d="M1174.0 931.3 L1249.0 911.0 L1302.6 899.5 L1352.0 889.4 L1393.0 879.0 L1411.0 879.0 L1432.4 860.0 L1465.5 824.5 L1505.0 793.0 L1550.7 753.0" stroke-width="8.3" stroke-linecap="round"/>
</g>
<g id="markers" fill="#000" stroke="none">
<rect x="734.3" y="840.2" width="17.0" height="17.0" rx="2"/>
<rect x="778.7" y="824.7" width="14.6" height="14.6" rx="2"/>
<rect x="810.7" y="817.2" width="14.6" height="14.6" rx="2"/>
<rect x="852.7" y="806.7" width="14.6" height="14.6" rx="2"/>
<rect x="886.7" y="792.7" width="14.6" height="14.6" rx="2"/>
<rect x="916.2" y="780.3" width="14.6" height="14.6" rx="2"/>
<rect x="949.3" y="762.5" width="14.6" height="14.6" rx="2"/>
<rect x="982.4" y="736.7" width="14.6" height="14.6" rx="2"/>
<rect x="1011.7" y="715.4" width="14.6" height="14.6" rx="2"/>
<rect x="1057.4" y="684.7" width="14.6" height="14.6" rx="2"/>
<rect x="1077.7" y="665.7" width="14.6" height="14.6" rx="2"/>
<rect x="1113.4" y="660.7" width="14.6" height="14.6" rx="2"/>
<rect x="1176.7" y="638.7" width="14.6" height="14.6" rx="2"/>
<rect x="1258.4" y="616.4" width="14.6" height="14.6" rx="2"/>
<rect x="1355.1" y="593.5" width="14.6" height="14.6" rx="2"/>
<rect x="1464.5" y="572.0" width="17.0" height="17.0" rx="2"/>
<path d="M864.6 899.5 L872.6 891.5 L880.6 899.5 L872.6 907.5Z"/>
<path d="M905.0 888.0 L913.0 880.0 L921.0 888.0 L913.0 896.0Z"/>
<path d="M948.6 879.0 L956.6 871.0 L964.6 879.0 L956.6 887.0Z"/>
<path d="M981.7 872.8 L989.7 864.8 L997.7 872.8 L989.7 880.8Z"/>
<path d="M1036.0 852.5 L1044.0 844.5 L1052.0 852.5 L1044.0 860.5Z"/>
<path d="M1077.0 838.5 L1085.0 830.5 L1093.0 838.5 L1085.0 846.5Z"/>
<path d="M1126.7 813.0 L1134.7 805.0 L1142.7 813.0 L1134.7 821.0Z"/>
<path d="M1165.0 783.8 L1173.0 775.8 L1181.0 783.8 L1173.0 791.8Z"/>
<path d="M1224.7 741.8 L1232.7 733.8 L1240.7 741.8 L1232.7 749.8Z"/>
<path d="M1273.0 706.0 L1281.0 698.0 L1289.0 706.0 L1281.0 714.0Z"/>
<path d="M1296.5 704.5 L1304.0 697.0 L1311.5 704.5 L1304.0 712.0Z"/>
<path d="M1369.7 675.6 L1377.7 667.6 L1385.7 675.6 L1377.7 683.6Z"/>
<circle cx="1473.0" cy="657.8" r="8.4"/>
<rect x="1012.0" y="908.0" width="16" height="16" rx="2"/>
<rect x="1080.4" y="889.8" width="14.4" height="14.4" rx="2"/>
<rect x="1127.5" y="873.3" width="14.4" height="14.4" rx="2"/>
<rect x="1174.6" y="855.4" width="14.4" height="14.4" rx="2"/>
<rect x="1225.5" y="835.1" width="14.4" height="14.4" rx="2"/>
<rect x="1295.4" y="786.8" width="14.4" height="14.4" rx="2"/>
<rect x="1369.2" y="737.1" width="14.4" height="14.4" rx="2"/>
<circle cx="1473.0" cy="705.0" r="8.4"/>
<rect x="1166.0" y="923.3" width="16" height="16" rx="2"/>
<rect x="1241.8" y="903.8" width="14.4" height="14.4" rx="2"/>
<rect x="1295.4" y="892.3" width="14.4" height="14.4" rx="2"/>
<rect x="1344.8" y="882.2" width="14.4" height="14.4" rx="2"/>
<rect x="1385.8" y="871.8" width="14.4" height="14.4" rx="2"/>
<rect x="1425.2" y="852.8" width="14.4" height="14.4" rx="2"/>
<rect x="1458.3" y="817.3" width="14.4" height="14.4" rx="2"/>
<rect x="1497.8" y="794.4" width="14.4" height="14.4" rx="2"/>
<rect x="1542.7" y="745.0" width="16" height="16" rx="2"/>
<path d="M545 347 L577 333.5 L577 360.5Z"/>
<path d="M1555 886 L1523 872.5 L1523 899.5Z"/>
</g>
<g stroke="#000" stroke-width="6" fill="none"><path d="M575 347 L743 346.5"/><path d="M1431 886 L1525 886"/></g>
<g id="ticks" font-family="'Liberation Sans', sans-serif" font-weight="700" font-size="75.5px" fill="#000">
<text transform="translate(299.3 70) scale(0.975 1)" text-anchor="end">1.4</text>
<text transform="translate(301.6 228.5) scale(0.975 1)" text-anchor="end">1</text>
<text transform="translate(299.3 391.5) scale(0.975 1)" text-anchor="end">0.6</text>
<text transform="translate(299.3 551) scale(0.975 1)" text-anchor="end">0.2</text>
<text transform="translate(299.3 709.5) scale(0.975 1)" text-anchor="end"><tspan dx="3">-</tspan><tspan dx="-3">0.2</tspan></text>
<text transform="translate(299.3 868.5) scale(0.975 1)" text-anchor="end"><tspan dx="3">-</tspan><tspan dx="-3">0.6</tspan></text>
<text transform="translate(301.6 1030) scale(0.975 1)" text-anchor="end">-1</text>
<text transform="translate(1701 142.3) scale(0.975 1)">17</text>
<text transform="translate(1701 364.8) scale(0.975 1)">14</text>
<text transform="translate(1701 586.3) scale(0.975 1)">11</text>
<text transform="translate(1701 806.3) scale(0.975 1)">8</text>
<text transform="translate(1701 1030.5) scale(0.975 1)">5</text>
<text transform="translate(357 1137.3) scale(0.975 1)" text-anchor="middle">1</text>
<text transform="translate(786.3 1137.3) scale(0.975 1)" text-anchor="middle">10</text>
<text transform="translate(1215.4 1137.3) scale(0.975 1)" text-anchor="middle">100</text>
<text transform="translate(1646 1137.3) scale(0.975 1)" text-anchor="middle">1000</text>
</g>
<g id="labels" font-family="'Liberation Sans', sans-serif" font-size="63.5px" fill="#000" stroke="#000" stroke-width="2.5" stroke-linejoin="round">
<text transform="translate(985.4 499.4) scale(0.967 1)" text-anchor="end">128 °C</text>
<text transform="translate(1189.6 375.0) scale(0.967 1)" text-anchor="end">129 °C</text>
<text transform="translate(1349.8 499.6) scale(0.967 1)" text-anchor="end">129.6 °C</text>
<text transform="translate(1648.1 289.0) scale(0.967 1)" text-anchor="end">130.3 °C</text>
<text transform="translate(705.5 868.6) scale(0.967 1)" text-anchor="end">128 °C</text>
<text transform="translate(842.8 927.8) scale(0.967 1)" text-anchor="end">129 °C</text>
<text transform="translate(1127.1 971.0) scale(0.967 1)" text-anchor="end">129.6 °C</text>
<text transform="translate(1479.4 970.2) scale(0.967 1)" text-anchor="end">130.3 °C</text>
</g>
</g>
<rect x="0" y="0" width="1965" height="18" fill="#fff"/>
<defs><filter id="soft2" x="-5%" y="-5%" width="110%" height="110%"><feGaussianBlur stdDeviation="0.8"/></filter></defs>
<g id="titles" filter="url(#soft2)">
<text transform="translate(1016.8 1225) scale(0.9 1)" text-anchor="middle" font-family="'Liberation Sans', sans-serif" font-weight="700" font-size="63px" fill="#000">time (min)</text>
<text id="ylabel" transform="rotate(-90)" xml:space="preserve"><tspan x="-730.2" y="74.4" font-family="'Liberation Sans', sans-serif" font-size="59.5px" font-weight="400" font-style="italic" fill="#000" stroke="#000" stroke-width="1.5" stroke-linejoin="round">c</tspan><tspan x="-696.7" y="87" font-family="'Liberation Sans', sans-serif" font-size="40px" font-weight="400" font-style="italic" fill="#000" stroke="#000" stroke-width="1.0" stroke-linejoin="round">p,</tspan><tspan x="-668.8" y="87" font-family="'Liberation Sans', sans-serif" font-size="40px" font-weight="400" font-style="italic" fill="#000" stroke="#000" stroke-width="1.0" stroke-linejoin="round">exc </tspan><tspan x="-584.3" y="74.4" font-family="'Liberation Sans', sans-serif" font-size="58px" font-weight="400" font-style="normal" fill="#000" stroke="#000" stroke-width="1.3" stroke-linejoin="round">(</tspan><tspan x="-565.8" y="74.4" font-family="'Liberation Sans', sans-serif" font-size="59.5px" font-weight="400" font-style="normal" fill="#000" stroke="#000" stroke-width="1.5" stroke-linejoin="round">J </tspan><tspan x="-515.5" y="74.4" font-family="'Liberation Sans', sans-serif" font-size="59.5px" font-weight="400" font-style="normal" fill="#000" stroke="#000" stroke-width="1.5" stroke-linejoin="round">g</tspan><tspan x="-478.6" y="56" font-family="'Liberation Sans', sans-serif" font-size="39px" font-weight="400" font-style="normal" fill="#000" stroke="#000" stroke-width="1.0" stroke-linejoin="round">-1 </tspan><tspan x="-429.0" y="74.4" font-family="'Liberation Sans', sans-serif" font-size="59.5px" font-weight="400" font-style="normal" fill="#000" stroke="#000" stroke-width="1.5" stroke-linejoin="round">K</tspan><tspan x="-385.0" y="56" font-family="'Liberation Sans', sans-serif" font-size="39px" font-weight="400" font-style="normal" fill="#000" stroke="#000" stroke-width="1.0" stroke-linejoin="round">-1</tspan><tspan x="-349.8" y="74.4" font-family="'Liberation Sans', sans-serif" font-size="58px" font-weight="400" font-style="normal" fill="#000" stroke="#000" stroke-width="1.3" stroke-linejoin="round">)</tspan></text>
<text id="y2label" transform="rotate(90)" xml:space="preserve"><tspan x="364.7" y="-1906.2" font-family="'Liberation Sans', sans-serif" font-size="58px" font-weight="400" font-style="normal" fill="#000" stroke="#000" stroke-width="1.3" stroke-linejoin="round">(</tspan><tspan x="386.8" y="-1906.2" font-family="'Liberation Sans', sans-serif" font-size="59.5px" font-weight="400" font-style="italic" fill="#000" stroke="#000" stroke-width="1.5" stroke-linejoin="round">T</tspan><tspan x="421.3" y="-1894" font-family="'Liberation Serif', serif" font-size="44px" font-weight="400" font-style="italic" fill="#000" stroke="#000" stroke-width="1.0" stroke-linejoin="round">m </tspan><tspan x="467.3" y="-1906.2" font-family="'Liberation Sans', sans-serif" font-size="59.5px" font-weight="400" font-style="normal" fill="#000" stroke="#000" stroke-width="1.5" stroke-linejoin="round">– </tspan><tspan x="517.0" y="-1906.2" font-family="'Liberation Sans', sans-serif" font-size="59.5px" font-weight="400" font-style="italic" fill="#000" stroke="#000" stroke-width="1.5" stroke-linejoin="round">T</tspan><tspan x="549.5" y="-1895.5" font-family="'Liberation Sans', sans-serif" font-size="40px" font-weight="400" font-style="normal" fill="#000" stroke="#000" stroke-width="1.0" stroke-linejoin="round">c </tspan><tspan x="589.2" y="-1906.2" font-family="'Liberation Sans', sans-serif" font-size="58px" font-weight="400" font-style="normal" fill="#000" stroke="#000" stroke-width="1.3" stroke-linejoin="round">)</tspan><tspan x="605.2" y="-1906.2" font-family="'Liberation Sans', sans-serif" font-size="58px" font-weight="400" font-style="normal" fill="#000" stroke="#000" stroke-width="1.3" stroke-linejoin="round">(</tspan><tspan x="626.0" y="-1906.2" font-family="'Liberation Sans', sans-serif" font-size="59.5px" font-weight="400" font-style="normal" fill="#000" stroke="#000" stroke-width="1.5" stroke-linejoin="round">K</tspan><tspan x="668.7" y="-1906.2" font-family="'Liberation Sans', sans-serif" font-size="58px" font-weight="400" font-style="normal" fill="#000" stroke="#000" stroke-width="1.3" stroke-linejoin="round">)</tspan></text>
</g>
</svg>
</body>
</html>
